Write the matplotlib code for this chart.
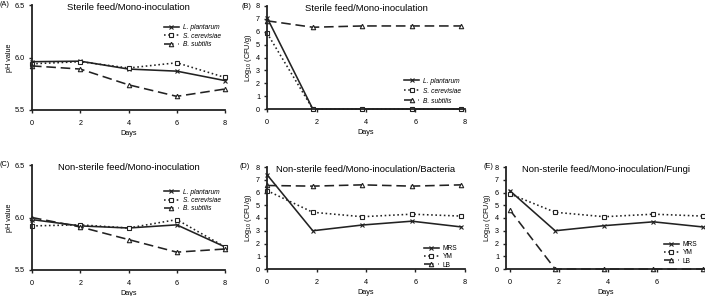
import matplotlib
matplotlib.use("Agg")
import matplotlib.pyplot as plt

plt.rcParams['font.family'] = ['Liberation Sans', 'DejaVu Sans']

# day positions
days = [0, 2, 4, 6, 8]
days_shift = [0, 1.85, 3.85, 5.85, 7.85]

# (A) sterile feed, pH
ph_a_lp = [5.96, 5.965, 5.89, 5.87, 5.78]
ph_a_sc = [5.94, 5.96, 5.90, 5.95, 5.81]
ph_a_bs = [5.92, 5.89, 5.74, 5.63, 5.70]

# (B) sterile feed, counts
cfu_b_lp = [7.1, 0, 0, 0, 0]
cfu_b_sc = [5.9, 0, 0, 0, 0]
cfu_b_bs = [6.85, 6.35, 6.45, 6.45, 6.45]

# (C) non-sterile feed, pH
ph_c_lp = [5.98, 5.92, 5.90, 5.93, 5.72]
ph_c_sc = [5.92, 5.93, 5.90, 5.98, 5.72]
ph_c_bs = [6.00, 5.91, 5.79, 5.67, 5.70]

# (D) non-sterile feed, bacteria
cfu_d_mrs = [7.4, 3.0, 3.45, 3.75, 3.3]
cfu_d_ym = [6.15, 4.45, 4.1, 4.3, 4.15]
cfu_d_lb = [6.55, 6.5, 6.6, 6.5, 6.6]

# (E) non-sterile feed, fungi
cfu_e_mrs = [6.15, 3.0, 3.4, 3.7, 3.3]
cfu_e_ym = [5.9, 4.45, 4.1, 4.3, 4.15]
cfu_e_lb = [4.65, 0, 0, 0, 0]

species = ['L. plantarum', 'S. cerevisiae', 'B. subtilis']
media = ['MRS', 'YM', 'LB']

W, H = 705, 296
fig = plt.figure(figsize=(W / 100, H / 100), dpi=100)

INK = '#222222'


def make_ax(left, top, right, bottom):
    ax = fig.add_axes([left / W, 1 - bottom / H, (right - left) / W, (bottom - top) / H])
    for s in ['top', 'right']:
        ax.spines[s].set_visible(False)
    for s in ['left', 'bottom']:
        ax.spines[s].set_linewidth(1.3)
        ax.spines[s].set_color(INK)
    ax.tick_params(labelsize=5.2, length=2.5, width=1, color=INK)
    ax.tick_params(axis='x', pad=5)
    ax.tick_params(axis='y', pad=2.5)
    return ax


def draw(ax, x, ys, labels):
    styles = [('-', 'x'), (':', 's'), ((0, (6, 3)), '^')]
    for y, lab, (ls, mk) in zip(ys, labels, styles):
        ax.plot(x, y, linestyle=ls, marker=mk, color=INK, lw=1.15, ms=3.2,
                mfc='white', mec=INK, mew=0.8, label=lab, clip_on=False)


def finish(ax, title, ylabel, leg_anchor, italic, spacing=0.2):
    ax.set_xlabel('Days', fontsize=5.2, labelpad=2)
    ax.set_ylabel(ylabel, fontsize=5.2, labelpad=1.5)
    ax.set_title(title, fontsize=6.8, pad=0, y=0.95)
    leg = ax.legend(loc='upper left', bbox_to_anchor=leg_anchor, frameon=False,
                    fontsize=4.8, handlelength=2.2, labelspacing=spacing,
                    handletextpad=0.6, borderaxespad=0)
    if italic:
        for t in leg.get_texts():
            t.set_style('italic')


def tag(x, y, s):
    fig.text(x / W, 1 - y / H, s, fontsize=5.2, ha='left', va='center')


# (A)
ax = make_ax(32, 5, 225, 110)
draw(ax, days, [ph_a_lp, ph_a_sc, ph_a_bs], species)
ax.set_xlim(0, 8)
ax.set_xticks(days)
ax.set_ylim(5.5, 6.5)
ax.set_yticks([5.5, 6.0, 6.5])
ax.set_yticklabels(['5.5', '6.0', '6.5'])
finish(ax, 'Sterile feed/Mono-inoculation', 'pH value', (0.67, 0.84), True)
tag(0, 5, '(A)')

# (B)
ax = make_ax(267, 6, 465, 109)
draw(ax, days_shift, [cfu_b_lp, cfu_b_sc, cfu_b_bs], species)
ax.set_xlim(0, 8)
ax.set_xticks(days)
ax.set_ylim(0, 8)
ax.set_yticks(range(0, 9))
finish(ax, 'Sterile feed/Mono-inoculation', 'Log$_{10}$ (CFU/g)', (0.68, 0.33), True, 0.45)
tag(242, 6, '(B)')

# (C)
ax = make_ax(32, 165, 225, 270)
draw(ax, days, [ph_c_lp, ph_c_sc, ph_c_bs], species)
ax.set_xlim(0, 8)
ax.set_xticks(days)
ax.set_ylim(5.5, 6.5)
ax.set_yticks([5.5, 6.0, 6.5])
ax.set_yticklabels(['5.5', '6.0', '6.5'])
finish(ax, 'Non-sterile feed/Mono-inoculation', 'pH value', (0.67, 0.8), True)
tag(0, 165, '(C)')

# (D)
ax = make_ax(267, 167, 465, 269)
draw(ax, days_shift, [cfu_d_mrs, cfu_d_ym, cfu_d_lb], media)
ax.set_xlim(0, 8)
ax.set_xticks(days)
ax.set_ylim(0, 8)
ax.set_yticks(range(0, 9))
finish(ax, 'Non-sterile feed/Mono-inoculation/Bacteria', 'Log$_{10}$ (CFU/g)', (0.78, 0.26), False)
tag(240, 166, '(D)')

# (E)
ax = make_ax(506, 167, 705, 269)
draw(ax, days_shift, [cfu_e_mrs, cfu_e_ym, cfu_e_lb], media)
ax.set_xlim(-0.15, 7.95)
ax.set_ylim(0, 8)
ax.set_yticks(range(0, 9))
ax.set_xticks([0, 2, 4, 6])
finish(ax, 'Non-sterile feed/Mono-inoculation/Fungi', 'Log$_{10}$ (CFU/g)', (0.78, 0.3), False)
tag(484, 166, '(E)')

fig.savefig('out.png', dpi=100)
